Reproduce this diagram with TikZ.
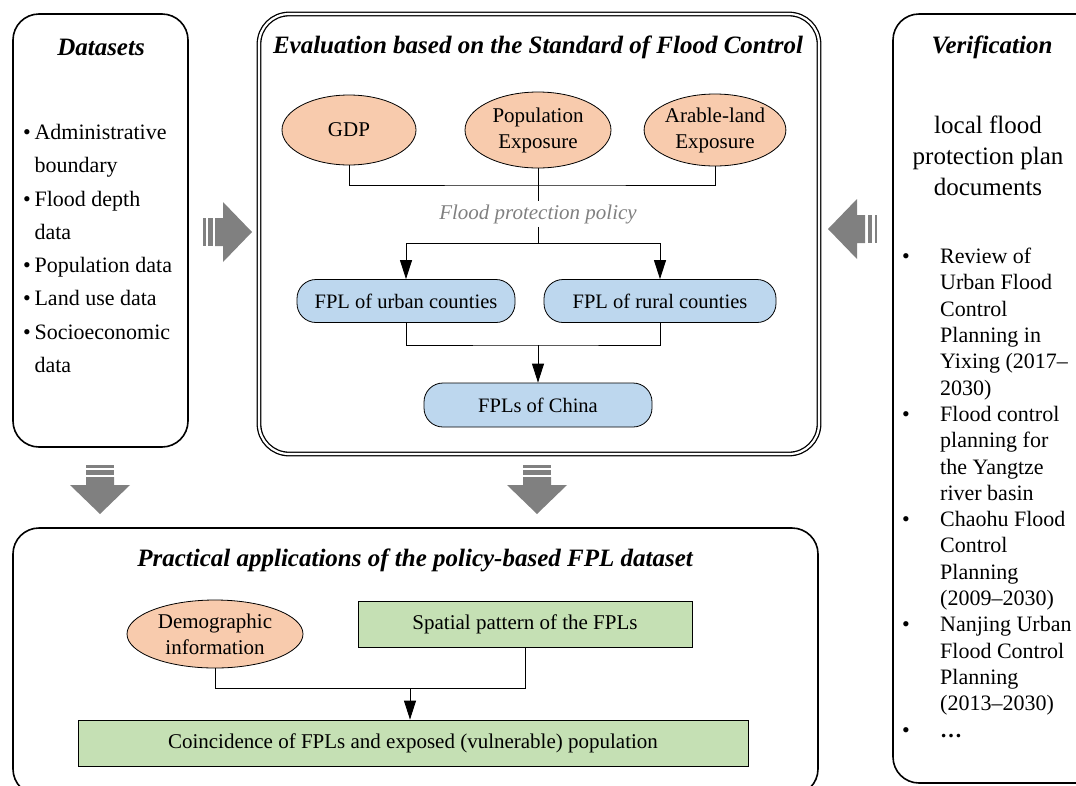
\documentclass[tikz,border=0pt]{standalone}
\usepackage{fontspec}
\setmainfont{Liberation Serif}
\usepackage{tikz}
\usetikzlibrary{arrows.meta,shapes.geometric,calc,positioning}

\definecolor{expocol}{HTML}{F8CBAD}
\definecolor{fplcol}{HTML}{BDD7EE}
\definecolor{appcol}{HTML}{C5E0B4}
\definecolor{arrowgray}{HTML}{808080}

\tikzset{
  panel/.style={draw, line width=1.6pt, rounded corners=26pt},
  title/.style={font=\fontsize{25}{30}\selectfont\bfseries\itshape},
  expo/.style={ellipse, draw, line width=0.8pt, fill=expocol, inner sep=0pt, align=center,
    font=\fontsize{21}{26}\selectfont},
  fplbox/.style={rectangle, draw, line width=0.8pt, fill=fplcol, rounded corners=19pt,
    minimum height=43pt, font=\fontsize{20.5}{25}\selectfont},
  appbox/.style={rectangle, draw, line width=0.8pt, fill=appcol, minimum height=46pt,
    font=\fontsize{21}{26}\selectfont},
  link/.style={line width=0.9pt},
  flow/.style={line width=0.9pt, -{Triangle[length=19pt,width=12pt]}},
  bigarrow/.pic={
    \fill[arrowgray] (0,-14) rectangle (2.5,14);
    \fill[arrowgray] (5,-14) rectangle (9.5,14);
    \fill[arrowgray] (12,-14) -- (20,-14) -- (20,-30) -- (49,0) -- (20,30) -- (20,14) -- (12,14) -- cycle;
  }
}

\begin{document}
\begin{tikzpicture}[x=1pt,y=-1pt]
\useasboundingbox (0,0) rectangle (1076,785);

% panels
\draw[panel] (13,14) rectangle (188,447);
\draw[line width=1.3pt, double, double distance=2.2pt, rounded corners=30pt] (259,14) rectangle (819,454);
\draw[panel] (893,14) rectangle (1110,783);
\draw[panel] (13,528) rectangle (818,795);

% titles
\node[title] (tdata) at (101,47) {Datasets};
\node[title] (teval) at (538,47) {Evaluation based on the Standard of Flood Control};
\node[title] (tverif) at (992,47) {Verification};
\node[title] (tapp) at (415,560) {Practical applications of the policy-based FPL dataset};

% datasets list
\node[anchor=north west, align=left, inner sep=0pt, font=\fontsize{22}{33.3}\selectfont] (datalist) at (23,124) {%
\textbullet\,Administrative\\ \phantom{\textbullet\,}boundary\\
\textbullet\,Flood depth\\ \phantom{\textbullet\,}data\\
\textbullet\,Population data\\
\textbullet\,Land use data\\
\textbullet\,Socioeconomic\\ \phantom{\textbullet\,}data};

% evaluation
\node[expo, minimum width=134pt, minimum height=70pt] (gdp) at (349,130) {GDP};
\node[expo, minimum width=146pt, minimum height=76pt] (pop) at (538,130) {Population\\Exposure};
\node[expo, minimum width=128pt, minimum height=72pt] (arable) at (715,130) {Arable-land\\Exposure};
\coordinate (join) at (538,185);
\node[text=arrowgray, font=\fontsize{21}{26}\selectfont\itshape, inner sep=3pt] (policy) at (538,214) {Flood protection policy};
\coordinate (split) at (538,243);
\node[fplbox, minimum width=218pt] (urban) at (406,301) {FPL of urban counties};
\node[fplbox, minimum width=232pt] (rural) at (660,301) {FPL of rural counties};
\coordinate (merge) at (538,345);
\node[fplbox, minimum width=228pt, minimum height=44pt] (china) at (538,405) {FPLs of China};

\draw[link] (gdp.south) |- (join) -| (arable.south);
\draw[link] (pop.south) -- (policy.north);
\draw[link] (policy.south) -- (split);
\draw[flow] (split) -| (urban.north);
\draw[flow] (split) -| (rural.north);
\draw[link] (urban.south) |- (merge) -| (rural.south);
\draw[flow] (merge) -- (merge |- china.north);

% verification
\node[align=center, font=\fontsize{25}{31}\selectfont] (plandocs) at (988,156) {local flood\\protection plan\\documents};
\node[anchor=north west, inner sep=0pt, font=\fontsize{22}{26.3}\selectfont] (planlist) at (902,245) {%
\begin{tabular}{@{}p{38pt}@{}l@{}}
\textbullet & Review of\\
 & Urban Flood\\
 & Control\\
 & Planning in\\
 & Yixing (2017--\\
 & 2030)\\
\textbullet & Flood control\\
 & planning for\\
 & the Yangtze\\
 & river basin\\
\textbullet & Chaohu Flood\\
 & Control\\
 & Planning\\
 & (2009--2030)\\
\textbullet & Nanjing Urban\\
 & Flood Control\\
 & Planning\\
 & (2013--2030)\\
\textbullet & \textbf{\dots}
\end{tabular}};

% applications
\node[expo, minimum width=176pt, minimum height=68pt] (demo) at (215,634) {Demographic\\information};
\node[appbox, minimum width=334pt] (spatial) at (525,624) {Spatial pattern of the FPLs};
\coordinate (merge2) at (410,688);
\node[appbox, minimum width=670pt] (coin) at (413,743) {Coincidence of FPLs and exposed (vulnerable) population};
\draw[link] (demo.south) |- (merge2) -| (spatial.south);
\draw[flow] (merge2) -- (merge2 |- coin.north);

% big arrows
\pic at (203,232) {bigarrow};
\pic[rotate=180] at (877,229) {bigarrow};
\pic[rotate=-90] at (100,465) {bigarrow};
\pic[rotate=-90] at (537,465) {bigarrow};
\end{tikzpicture}
\end{document}
